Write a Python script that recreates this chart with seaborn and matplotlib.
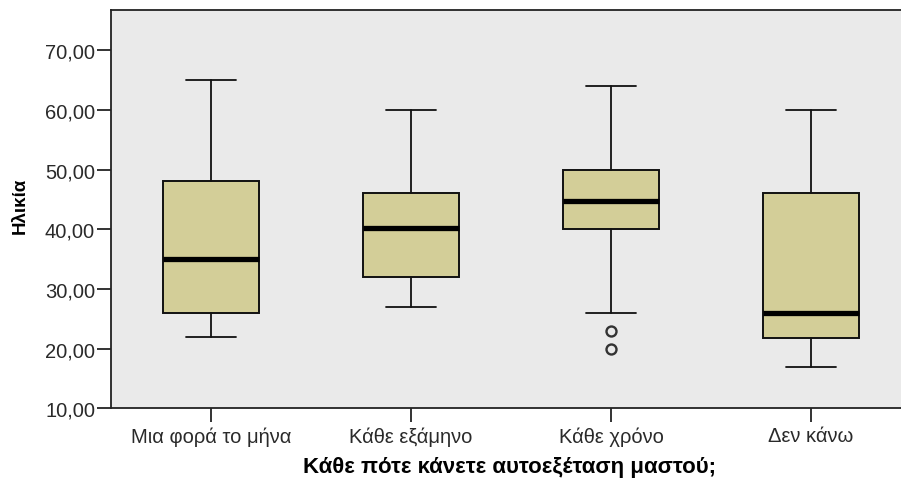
import matplotlib
matplotlib.use("Agg")
import matplotlib.pyplot as plt
import seaborn as sns

# Five-number summaries of age per frequency of breast self-examination
categories = ["Μια φορά το μήνα", "Κάθε εξάμηνο", "Κάθε χρόνο", "Δεν κάνω"]
whisker_low = [22, 27, 26, 17]
q1 = [26, 32, 40, 21.75]
median = [35, 40.25, 44.75, 26]
q3 = [48, 46, 50, 46]
whisker_high = [65, 60, 64, 60]
outliers = [[], [], [23, 20], []]

y_ticks = [10, 20, 30, 40, 50, 60, 70]
y_tick_labels = ["10,00", "20,00", "30,00", "40,00", "50,00", "60,00", "70,00"]
x_title = "Κάθε πότε κάνετε αυτοεξέταση μαστού;"
y_title = "Ηλικία"

sns.set_theme(style="ticks")
plt.rcParams["font.family"] = ["Liberation Sans", "DejaVu Sans"]

fig = plt.figure(figsize=(9.01, 4.85), dpi=100)
ax = fig.add_axes([0.1232, 0.156, 0.888, 0.821])
ax.set_facecolor("#EAEAEA")

stats = []
for i, name in enumerate(categories):
    stats.append({
        "label": name,
        "whislo": whisker_low[i],
        "q1": q1[i],
        "med": median[i],
        "q3": q3[i],
        "whishi": whisker_high[i],
        "fliers": outliers[i],
    })

ax.bxp(
    stats,
    positions=range(len(categories)),
    widths=0.48,
    capwidths=0.25,
    patch_artist=True,
    showfliers=True,
    boxprops=dict(facecolor="#D3CE98", edgecolor="#111111", linewidth=1.4),
    medianprops=dict(color="black", linewidth=3.8, solid_capstyle="butt"),
    whiskerprops=dict(color="#111111", linewidth=1.3),
    capprops=dict(color="#111111", linewidth=1.3),
    flierprops=dict(marker="o", markersize=7.2, markerfacecolor="none",
                    markeredgecolor="#333333", markeredgewidth=1.7),
)

ax.set_xlim(-0.5, 3.5)
ax.set_ylim(10, 76.7)
ax.set_yticks(y_ticks)
ax.set_yticklabels(y_tick_labels)
ax.set_xticks(range(len(categories)))
ax.set_xticklabels(categories)

ax.tick_params(axis="both", direction="out", length=10, width=1.2, color="#111111",
               labelsize=14.5, labelcolor="#2a2a2a")
ax.tick_params(axis="y", pad=1.5)
ax.tick_params(axis="x", pad=3)

for side in ["left", "right", "top", "bottom"]:
    ax.spines[side].set_visible(True)
    ax.spines[side].set_color("#222222")
    ax.spines[side].set_linewidth(1.3)

ax.set_xlabel(x_title, fontsize=16, fontweight="bold", color="black")
ax.xaxis.set_label_coords(0.498, -0.145)
ax.xaxis.label.set_va("center")
ax.set_ylabel(y_title, fontsize=13.5, fontweight="bold", color="black")
ax.yaxis.set_label_coords(-0.114, 0.512)
ax.yaxis.label.set_va("center")

fig.savefig("out.png", dpi=100)
